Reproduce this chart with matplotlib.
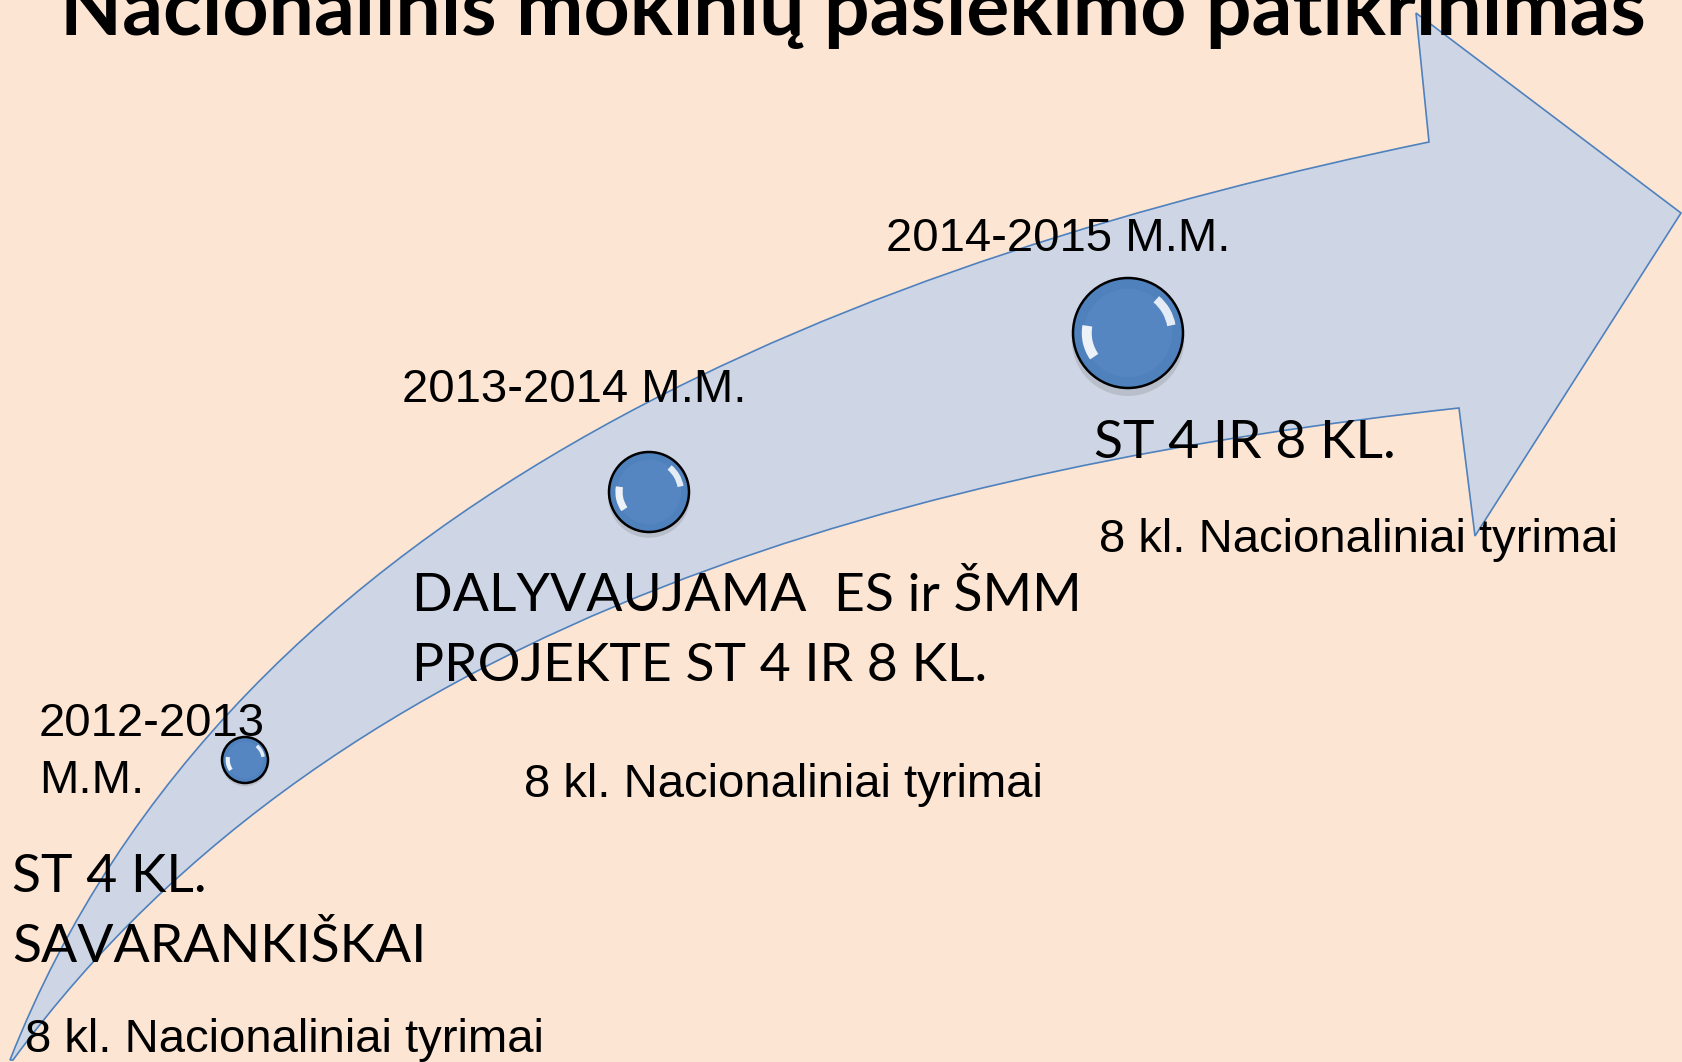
import numpy as np
import matplotlib
matplotlib.use("Agg")
import matplotlib.pyplot as plt
from matplotlib.path import Path
from matplotlib.patches import PathPatch, Circle, Arc, Ellipse

# texts
title = "Nacionalinis mokinių pasiekimo patikrinimas"
years = [["2012-2013", "M.M."], ["2013-2014 M.M."], ["2014-2015 M.M."]]
steps = [["ST 4 KL.", "SAVARANKIŠKAI"],
         ["DALYVAUJAMA  ES ir ŠMM", "PROJEKTE ST 4 IR 8 KL."],
         ["ST 4 IR 8 KL."]]
notes = ["8 kl. Nacionaliniai tyrimai"] * 3

# layout (pixel coords, y down), first-line baselines
year_xy = [(39, 736), (402, 402), (886, 251)]
step_xy = [(12, 892), (412, 611), (1094, 458)]
note_xy = [(25, 1052), (524, 797), (1099, 552)]
dot_xy = [(245, 760), (649, 492), (1128, 333)]
dot_r = [23, 40, 55]

# arrow outline
upper_edge = [(10, 1060), (27, 1020), (57, 960), (100, 893), (140, 827), (187, 760),
              (233, 700), (300, 627), (400, 560), (472, 513), (564, 450), (655, 400),
              (775, 340), (860, 303), (1005, 257), (1267, 180), (1429, 142)]
head = [(1416, 13), (1681, 213), (1475, 536)]
lower_edge = [(13, 1060), (40, 1027), (83, 970), (150, 900), (217, 843), (300, 777),
              (400, 710), (510, 655), (655, 600), (839, 527), (977, 487), (1100, 458),
              (1248, 437), (1459, 408)]

BG = "#FDE5D3"
FILL = "#CED6E6"
EDGE = "#4F81BD"


def bezier_fit(pts):
    # least squares cubic bezier with fixed ends, returns the 3 points after the start
    p = np.array(pts, float)
    d = np.r_[0, np.cumsum(np.hypot(*np.diff(p, axis=0).T))]
    t = d / d[-1]
    b0, b1, b2, b3 = (1 - t) ** 3, 3 * t * (1 - t) ** 2, 3 * t ** 2 * (1 - t), t ** 3
    rhs = p - np.outer(b0, p[0]) - np.outer(b3, p[-1])
    ctrl, *_ = np.linalg.lstsq(np.c_[b1, b2], rhs, rcond=None)
    return [tuple(ctrl[0]), tuple(ctrl[1]), tuple(p[-1])]


fig = plt.figure(figsize=(16.82, 10.62), dpi=100, facecolor=BG)
ax = fig.add_axes([0, 0, 1, 1])
ax.set_xlim(0, 1682)
ax.set_ylim(1062, 0)
ax.set_facecolor(BG)
ax.axis("off")

# arrow: upper curve, head, lower curve back to the tail
lower_back = lower_edge[::-1]
verts = [upper_edge[0]] + bezier_fit(upper_edge) + head + [lower_back[0]] + bezier_fit(lower_back) + [upper_edge[0]]
codes = ([Path.MOVETO] + [Path.CURVE4] * 3 + [Path.LINETO] * (len(head) + 1)
         + [Path.CURVE4] * 3 + [Path.CLOSEPOLY])
ax.add_patch(PathPatch(Path(verts, codes), facecolor=FILL, edgecolor=EDGE, lw=1.2, zorder=1))

# glossy dots
for (cx, cy), r in zip(dot_xy, dot_r):
    ax.add_patch(Ellipse((cx, cy + r * 0.12), 2.05 * r, 2.05 * r, color="#7a7a7a", alpha=0.25, lw=0, zorder=2))
    ax.add_patch(Circle((cx, cy), r, facecolor="#4F81BD", edgecolor="black", lw=1.8, zorder=3))
    ax.add_patch(Circle((cx, cy), r * 0.8, facecolor="#5A8BC7", edgecolor="none", alpha=0.6, zorder=3))
    ax.add_patch(Arc((cx, cy), 1.5 * r, 1.5 * r, theta1=145, theta2=190, color="white",
                     lw=r * 0.13, alpha=0.9, zorder=4))
    ax.add_patch(Arc((cx, cy), 1.6 * r, 1.6 * r, theta1=-50, theta2=-10, color="white",
                     lw=r * 0.11, alpha=0.85, zorder=4))

# texts
ax.text(60, 35, title, fontsize=58, fontweight="bold", family="Lato", ha="left", va="baseline", zorder=5)
for (x, y), lines in zip(year_xy, years):
    for i, s in enumerate(lines):
        ax.text(x, y + 57 * i, s, fontsize=34, family="Liberation Sans", ha="left", va="baseline", zorder=5)
for (x, y), lines in zip(step_xy, steps):
    for i, s in enumerate(lines):
        ax.text(x, y + 70 * i, s, fontsize=38.5, family="Lato", ha="left", va="baseline", zorder=5)
for (x, y), s in zip(note_xy, notes):
    ax.text(x, y, s, fontsize=34, family="Liberation Sans", ha="left", va="baseline", zorder=5)

fig.savefig("out.png", dpi=100, facecolor=BG)
